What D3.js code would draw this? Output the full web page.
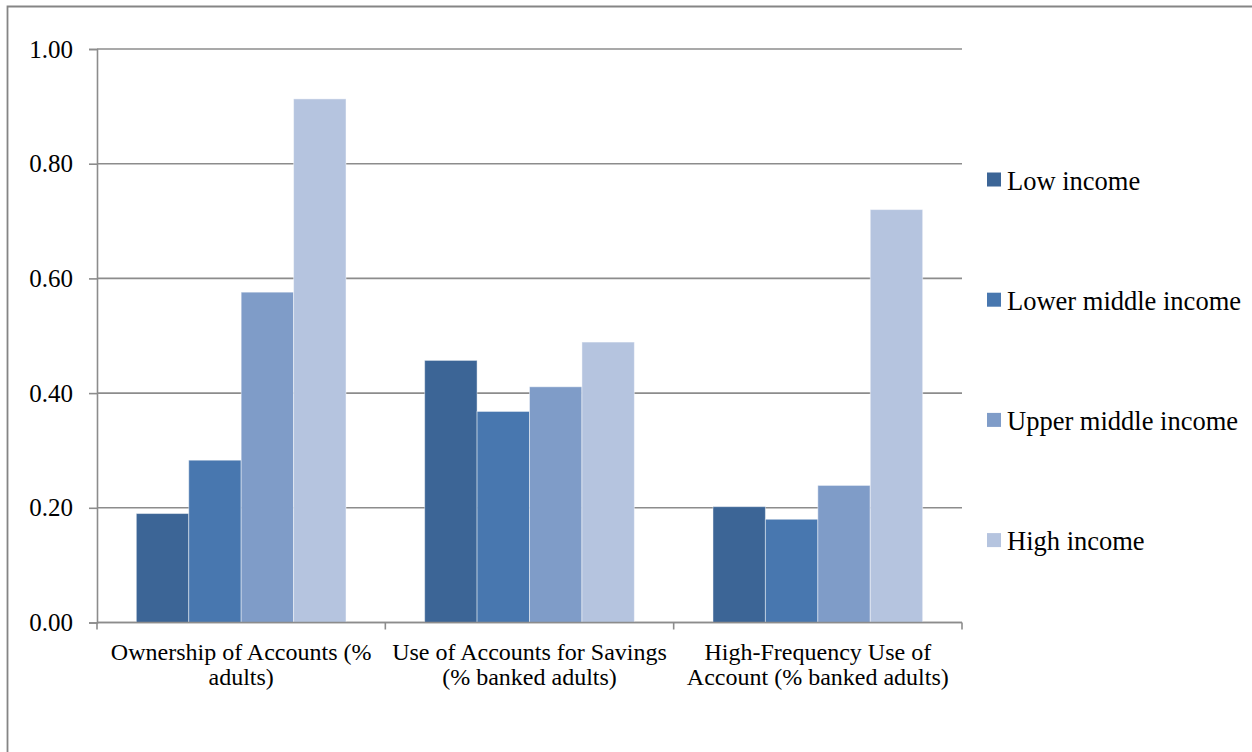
<!DOCTYPE html>
<html>
<head>
<meta charset="utf-8">
<script src="https://cdn.jsdelivr.net/npm/d3@7"></script>
<style>
  html, body { margin: 0; padding: 0; background: #fff; }
  svg { display: block; }
</style>
</head>
<body>
<svg id="chart" width="1252" height="752"></svg>
<script>
// Account indicators by income group
const categories = [
  ["Ownership of Accounts (%", "adults)"],
  ["Use of Accounts for Savings", "(% banked adults)"],
  ["High-Frequency Use of", "Account (% banked adults)"]
];
const seriesNames = ["Low income", "Lower middle income", "Upper middle income", "High income"];
const lowIncome         = [0.190, 0.457, 0.202];
const lowerMiddleIncome = [0.283, 0.368, 0.180];
const upperMiddleIncome = [0.576, 0.411, 0.239];
const highIncome        = [0.913, 0.489, 0.720];
const yTicks = [0, 0.2, 0.4, 0.6, 0.8, 1.0];
const colors = ["#3C6596", "#4877AF", "#7F9CC8", "#B5C4DF"];

const seriesValues = [lowIncome, lowerMiddleIncome, upperMiddleIncome, highIncome];
const FONT = "'Liberation Serif', 'Times New Roman', serif";

const svg = d3.select("#chart");

// Chart frame (top and left edges visible)
svg.append("path")
  .attr("d", "M7.5,760 L7.5,6.5 L1260,6.5")
  .attr("fill", "none")
  .attr("stroke", "#858585")
  .attr("stroke-width", 1.8);

const plot = { left: 97, right: 962, top: 49, bottom: 622.5 };

const x = d3.scaleBand()
  .domain(d3.range(categories.length))
  .range([plot.left, plot.right])
  .paddingInner(0)
  .paddingOuter(0);

const xs = d3.scaleBand()
  .domain(d3.range(seriesNames.length))
  .range([0, x.bandwidth()])
  .paddingInner(0)
  .paddingOuter(0.75);

const y = d3.scaleLinear().domain([0, 1]).range([plot.bottom, plot.top]);

// Y axis with tick labels
const yAxis = d3.axisLeft(y)
  .tickValues(yTicks)
  .tickFormat(d3.format(".2f"))
  .tickSize(8)
  .tickPadding(16);

const gy = svg.append("g").attr("transform", `translate(${plot.left},0)`).call(yAxis);
gy.select(".domain").attr("stroke", "#8c8c8c").attr("stroke-width", 1.6);
gy.selectAll(".tick line").attr("stroke", "#8c8c8c").attr("stroke-width", 1.6);
gy.selectAll(".tick text")
  .style("font-family", FONT)
  .style("font-size", "25px")
  .attr("fill", "#000");

// Horizontal gridlines
svg.append("g")
  .selectAll("line")
  .data(yTicks)
  .join("line")
  .attr("x1", plot.left)
  .attr("x2", plot.right)
  .attr("y1", d => y(d))
  .attr("y2", d => y(d))
  .attr("stroke", "#8c8c8c")
  .attr("stroke-width", 1.6);

// Bars
const groups = svg.append("g")
  .selectAll("g")
  .data(categories.map((c, i) => i))
  .join("g")
  .attr("transform", i => `translate(${x(i)},0)`);

groups.selectAll("rect")
  .data(i => seriesValues.map((vals, s) => ({ s, v: vals[i] })))
  .join("rect")
  .attr("x", d => xs(d.s))
  .attr("width", xs.bandwidth())
  .attr("y", d => y(d.v))
  .attr("height", d => y(0) - y(d.v))
  .attr("fill", d => colors[d.s])
  .attr("stroke", "#ffffff")
  .attr("stroke-opacity", 0.45)
  .attr("stroke-width", 1);

// X axis baseline and category separator ticks
svg.append("line")
  .attr("x1", plot.left).attr("x2", plot.right)
  .attr("y1", y(0)).attr("y2", y(0))
  .attr("stroke", "#8c8c8c").attr("stroke-width", 1.6);

const boundaries = d3.range(categories.length).map(i => x(i)).concat([x(categories.length - 1) + x.bandwidth()]);
svg.append("g")
  .selectAll("line")
  .data(boundaries)
  .join("line")
  .attr("x1", d => d).attr("x2", d => d)
  .attr("y1", y(0)).attr("y2", y(0) + 7)
  .attr("stroke", "#8c8c8c").attr("stroke-width", 1.6);

// Category labels (two lines each)
const labels = svg.append("g")
  .selectAll("text")
  .data(categories.map((c, i) => ({ c, i })))
  .join("text")
  .attr("x", d => x(d.i) + x.bandwidth() / 2)
  .attr("y", 660)
  .attr("text-anchor", "middle")
  .attr("fill", "#000")
  .style("font-family", FONT)
  .style("font-size", "24px");

labels.selectAll("tspan")
  .data(d => d.c.map((line, k) => ({ line, k, cx: x(d.i) + x.bandwidth() / 2 })))
  .join("tspan")
  .attr("x", d => d.cx)
  .attr("dy", d => d.k === 0 ? 0 : 24.5)
  .text(d => d.line);

// Legend
const legend = svg.append("g")
  .selectAll("g")
  .data(seriesNames.map((name, s) => ({ name, s })))
  .join("g")
  .attr("transform", d => `translate(987,${189.5 + d.s * 120.2})`);

legend.append("rect")
  .attr("x", 0).attr("y", -17)
  .attr("width", 14).attr("height", 14)
  .attr("fill", d => colors[d.s]);

legend.append("text")
  .attr("x", 20).attr("y", 0)
  .attr("fill", "#000")
  .style("font-family", FONT)
  .style("font-size", "26.5px")
  .text(d => d.name);
</script>
</body>
</html>
